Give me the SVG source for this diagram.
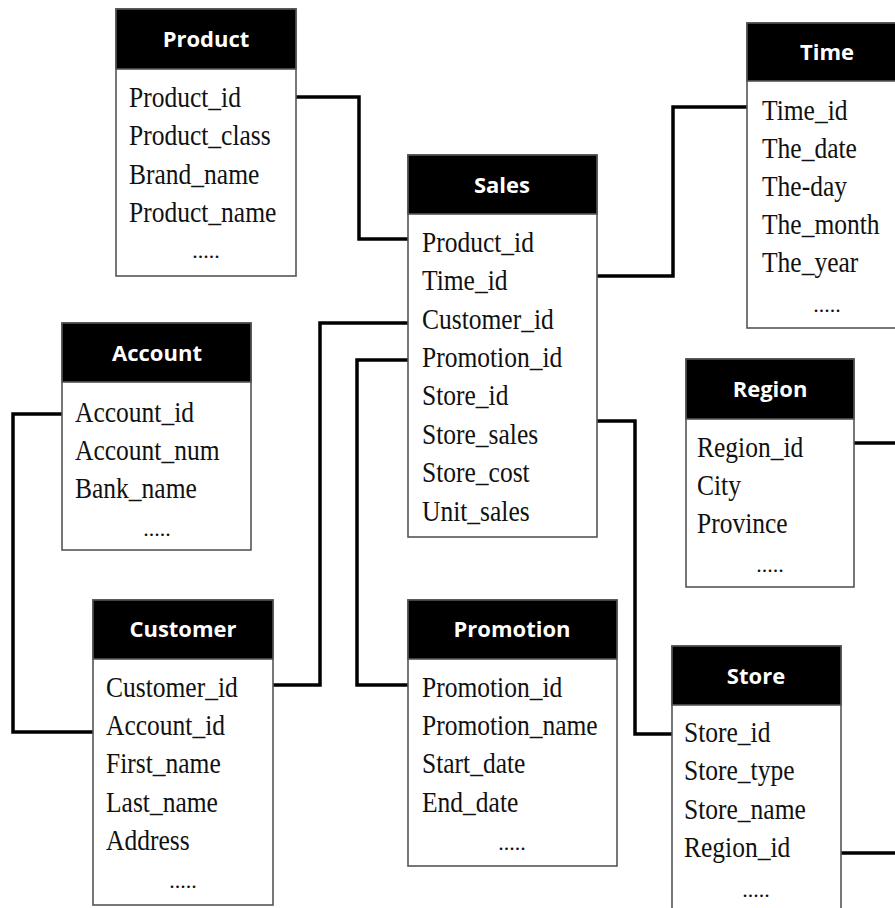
<svg xmlns="http://www.w3.org/2000/svg" width="895" height="908" viewBox="0 0 895 908">
<style>
.box{fill:#fff;stroke:#555;stroke-width:1.6}
.hdr{fill:#000;stroke:#555;stroke-width:1.6}
.ht{font-family:"Open Sans","Noto Sans",sans-serif;font-weight:bold;font-size:22px;fill:#fff;text-anchor:middle}
.ft{font-family:"Liberation Serif","Times New Roman",serif;font-size:29px;fill:#111}
.dots{font-family:"Liberation Serif","Times New Roman",serif;font-size:22px;fill:#111;text-anchor:middle}
.con{fill:none;stroke:#000;stroke-width:3.5;stroke-linejoin:miter}
</style>
<rect width="895" height="908" fill="#fff"/>
<g id="connectors">
<path class="con" d="M296,97 H359 V239 H408"/>
<path class="con" d="M597,276 H673 V107 H747"/>
<path class="con" d="M273,685 H320 V323 H408"/>
<path class="con" d="M408,360 H357 V685 H408"/>
<path class="con" d="M597,421 H635 V734 H672"/>
<path class="con" d="M62,414 H13 V732 H93"/>
<path class="con" d="M854,443 H897"/>
<path class="con" d="M841,853 H897"/>
</g>
<g id="product">
<rect class="box" x="116" y="9" width="180" height="267"/>
<rect class="hdr" x="116" y="9" width="180" height="60"/>
<text class="ht" x="206" y="47">Product</text>
<g transform="translate(129,0) scale(0.88,1)" class="ft">
<text y="107">Product_id</text>
<text y="145">Product_class</text>
<text y="184">Brand_name</text>
<text y="222">Product_name</text>
</g>
<text class="dots" x="206" y="258">.....</text>
</g>
<g id="sales">
<rect class="box" x="408" y="155" width="189" height="382"/>
<rect class="hdr" x="408" y="155" width="189" height="59"/>
<text class="ht" x="502" y="193">Sales</text>
<g transform="translate(422,0) scale(0.88,1)" class="ft">
<text y="252">Product_id</text>
<text y="290">Time_id</text>
<text y="329">Customer_id</text>
<text y="367">Promotion_id</text>
<text y="405">Store_id</text>
<text y="444">Store_sales</text>
<text y="482">Store_cost</text>
<text y="521">Unit_sales</text>
</g>
</g>
<g id="time">
<rect class="box" x="747" y="23" width="162" height="305"/>
<rect class="hdr" x="747" y="23" width="162" height="58"/>
<text class="ht" x="827" y="60">Time</text>
<g transform="translate(762,0) scale(0.88,1)" class="ft">
<text y="120">Time_id</text>
<text y="158">The_date</text>
<text y="196">The-day</text>
<text y="234">The_month</text>
<text y="272">The_year</text>
</g>
<text class="dots" x="827" y="312">.....</text>
</g>
<g id="account">
<rect class="box" x="62" y="323" width="189" height="227"/>
<rect class="hdr" x="62" y="323" width="189" height="59"/>
<text class="ht" x="157" y="361">Account</text>
<g transform="translate(75,0) scale(0.88,1)" class="ft">
<text y="422">Account_id</text>
<text y="460">Account_num</text>
<text y="498">Bank_name</text>
</g>
<text class="dots" x="157" y="536">.....</text>
</g>
<g id="region">
<rect class="box" x="686" y="359" width="168" height="228"/>
<rect class="hdr" x="686" y="359" width="168" height="60"/>
<text class="ht" x="770" y="397">Region</text>
<g transform="translate(697,0) scale(0.88,1)" class="ft">
<text y="457">Region_id</text>
<text y="495">City</text>
<text y="533">Province</text>
</g>
<text class="dots" x="770" y="572">.....</text>
</g>
<g id="customer">
<rect class="box" x="93" y="600" width="180" height="305"/>
<rect class="hdr" x="93" y="600" width="180" height="59"/>
<text class="ht" x="183" y="637">Customer</text>
<g transform="translate(106,0) scale(0.88,1)" class="ft">
<text y="697">Customer_id</text>
<text y="735">Account_id</text>
<text y="773">First_name</text>
<text y="812">Last_name</text>
<text y="850">Address</text>
</g>
<text class="dots" x="183" y="888">.....</text>
</g>
<g id="promotion">
<rect class="box" x="408" y="600" width="209" height="266"/>
<rect class="hdr" x="408" y="600" width="209" height="59"/>
<text class="ht" x="512" y="637">Promotion</text>
<g transform="translate(422,0) scale(0.88,1)" class="ft">
<text y="697">Promotion_id</text>
<text y="735">Promotion_name</text>
<text y="773">Start_date</text>
<text y="812">End_date</text>
</g>
<text class="dots" x="512" y="850">.....</text>
</g>
<g id="store">
<rect class="box" x="672" y="646" width="169" height="280"/>
<rect class="hdr" x="672" y="646" width="169" height="59"/>
<text class="ht" x="756" y="684">Store</text>
<g transform="translate(684,0) scale(0.88,1)" class="ft">
<text y="742">Store_id</text>
<text y="780">Store_type</text>
<text y="819">Store_name</text>
<text y="857">Region_id</text>
</g>
<text class="dots" x="756" y="897">.....</text>
</g>
</svg>
